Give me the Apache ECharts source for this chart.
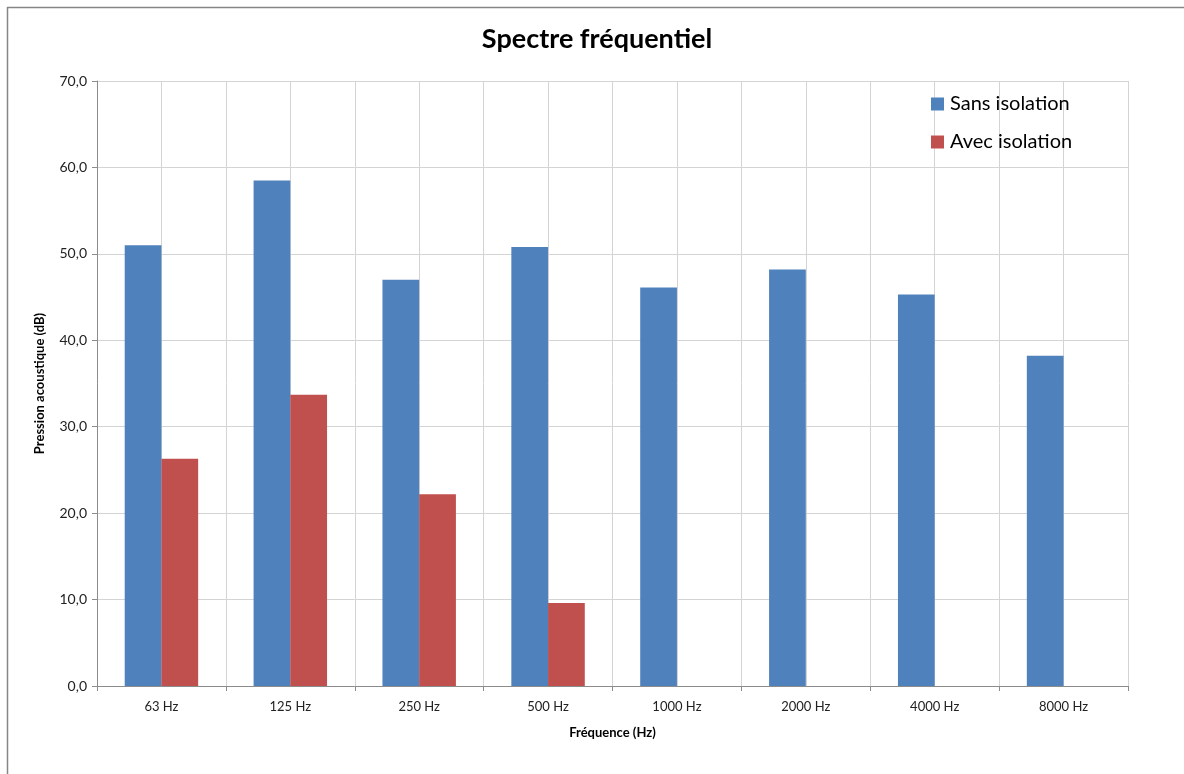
<!DOCTYPE html>
<html>
<head>
<meta charset="utf-8">
<script src="https://cdn.jsdelivr.net/npm/echarts@6/dist/echarts.min.js"></script>
<style>
html,body{margin:0;padding:0;background:#fff;}
#c{width:1184px;height:774px;}
</style>
</head>
<body>
<div id="c"></div>
<script>
var categories = ['63 Hz','125 Hz','250 Hz','500 Hz','1000 Hz','2000 Hz','4000 Hz','8000 Hz'];
var sansIsolation = [51.0, 58.5, 47.0, 50.8, 46.1, 48.2, 45.3, 38.2];
var avecIsolation = [26.3, 33.7, 22.2, 9.6, null, null, null, null];
var seriesNames = ['Sans isolation','Avec isolation'];

var FONT = 'Lato, "Open Sans", sans-serif';
var chart = echarts.init(document.getElementById('c'));
chart.setOption({
  backgroundColor: '#fff',
  animation: false,
  title: {
    text: 'Spectre fréquentiel',
    left: 592, top: 21, textAlign: 'center',
    textStyle: {fontFamily: FONT, fontWeight: 'bold', fontSize: 27, color: '#000'}
  },
  legend: {
    orient: 'vertical',
    left: 926, top: 89,
    itemWidth: 13, itemHeight: 13, itemGap: 18,
    icon: 'rect',
    textStyle: {fontFamily: FONT, fontSize: 20, color: '#000', padding: [0,0,0,1]},
    data: seriesNames
  },
  graphic: [
    {type: 'line', shape: {x1: 7, y1: 7.5, x2: 1200, y2: 7.5}, style: {stroke: '#868686', lineWidth: 1.5}},
    {type: 'line', shape: {x1: 7.5, y1: 7, x2: 7.5, y2: 800}, style: {stroke: '#868686', lineWidth: 1.5}}
  ],
  grid: {left: 97, right: 56, top: 81, bottom: 88},
  xAxis: [{
    type: 'category',
    data: categories,
    name: 'Fréquence (Hz)',
    nameLocation: 'middle',
    nameGap: 40,
    nameTextStyle: {fontFamily: FONT, fontWeight: 'bold', fontSize: 13, color: '#000'},
    axisLine: {lineStyle: {color: '#8c8c8c'}},
    axisTick: {show: true, length: 5, lineStyle: {color: '#8c8c8c'}},
    axisLabel: {fontFamily: FONT, fontSize: 13, color: '#222', margin: 14},
    splitLine: {show: false}
  }, {
    type: 'value', min: 0, max: 16, interval: 1,
    show: true, position: 'bottom',
    axisLine: {show: false}, axisTick: {show: false}, axisLabel: {show: false},
    splitLine: {show: true, lineStyle: {color: '#d4d4d4', width: 1}}
  }],
  yAxis: {
    type: 'value', min: 0, max: 70, interval: 10,
    name: 'Pression acoustique (dB)',
    nameLocation: 'middle',
    nameGap: 51,
    nameTextStyle: {fontFamily: FONT, fontWeight: 'bold', fontSize: 13, color: '#000'},
    axisLine: {show: true, lineStyle: {color: '#8c8c8c'}},
    axisTick: {show: true, length: 5, lineStyle: {color: '#8c8c8c'}},
    axisLabel: {fontFamily: FONT, fontSize: 14, color: '#222', margin: 10,
      formatter: function(v){ return v.toFixed(1).replace('.', ','); }},
    splitLine: {show: true, lineStyle: {color: '#d4d4d4', width: 1}}
  },
  series: [{
    name: seriesNames[0], type: 'bar', data: sansIsolation,
    itemStyle: {color: '#4f81bd'},
    barGap: '0%', barCategoryGap: '43%', z: 3
  }, {
    name: seriesNames[1], type: 'bar', data: avecIsolation,
    itemStyle: {color: '#c0504d'},
    barGap: '0%', barCategoryGap: '43%', z: 3
  }]
});
</script>
</body>
</html>
